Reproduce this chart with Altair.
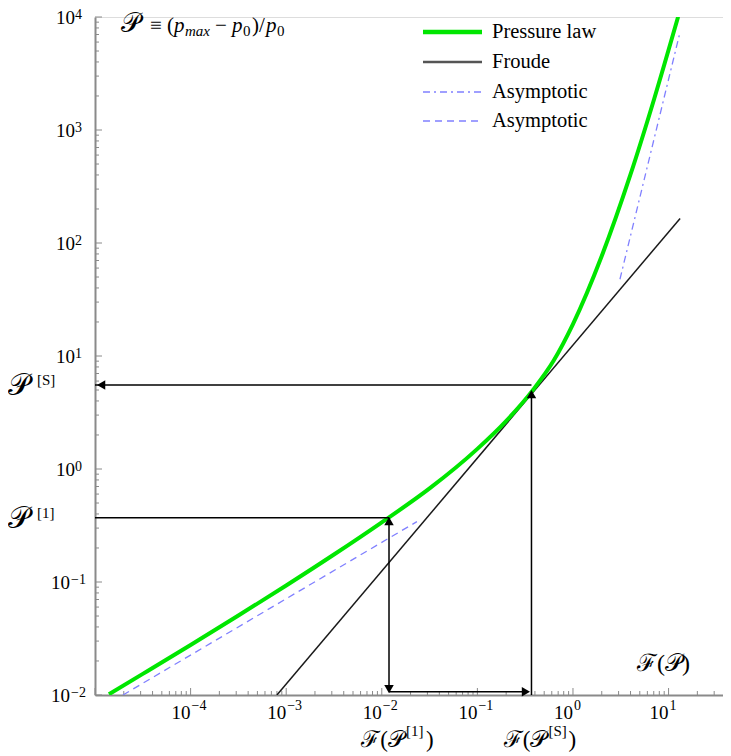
import altair as alt
import pandas as pd

# ---------------- data ----------------
pressure_F = [1.40e-5, 3.162e-5, 1.0e-4, 3.162e-4, 1.0e-3, 3.162e-3, 0.01,
              0.03162, 0.1, 0.1995, 0.382, 0.631, 1.0, 1.995, 3.981, 7.079, 12.59]
pressure_P = [0.01016, 0.01538, 0.02773, 0.05047, 0.09311, 0.1750, 0.3373,
              0.6730, 1.507, 2.655, 5.012, 9.162, 19.14, 76.21, 399.9, 1892.0, 10046.0]
froude_F = [8.0e-4, 13.2]
froude_P = [0.01, 165.0]
asym_low_F = [1.96e-5, 0.0233]
asym_low_P = [0.01, 0.342]
asym_high_F = [3.10, 13.2]
asym_high_P = [47.8, 7380.0]

# annotation values
F_1 = 0.0119
F_S = 0.368
P_1 = 0.371
P_S = 5.53

x_tick_exps = [-4, -3, -2, -1, 0, 1]
y_tick_exps = [-2, -1, 0, 1, 2, 3, 4]
legend_labels = ["Pressure law", "Froude", "Asymptotic", "Asymptotic"]

# ---------------- chart ----------------
W, H = 628, 678
SERIF = "Liberation Serif"
xs = alt.Scale(type="log", domain=[1e-5, 37.1], nice=False)
ys = alt.Scale(type="log", domain=[1e-2, 1e4], nice=False)
AX = dict(labels=False, ticks=False, grid=False, title=None,
          domainColor="#8a8a8a", domainWidth=2)
xaxis = alt.Axis(**AX)
yaxis = alt.Axis(**AX)


def X(f):
    return alt.X(f, type="quantitative", scale=xs, axis=xaxis)


def Y(f):
    return alt.Y(f, type="quantitative", scale=ys, axis=yaxis)


def series(F, P):
    return pd.DataFrame({"F": F, "P": P})


green = alt.Chart(series(pressure_F, pressure_P)).mark_line(
    color="#00e600", strokeWidth=4, clip=True, interpolate="monotone"
).encode(x=X("F"), y=Y("P"))
froude = alt.Chart(series(froude_F, froude_P)).mark_line(
    color="#1a1a1a", strokeWidth=1.5, clip=True
).encode(x=X("F"), y=Y("P"))
low = alt.Chart(series(asym_low_F, asym_low_P)).mark_line(
    color="#8080ff", strokeWidth=1.3, strokeDash=[7, 5], clip=True
).encode(x=X("F"), y=Y("P"))
high = alt.Chart(series(asym_high_F, asym_high_P)).mark_line(
    color="#8080ff", strokeWidth=1.3, strokeDash=[7, 4, 2, 4], clip=True
).encode(x=X("F"), y=Y("P"))

# arrows
seg = pd.DataFrame({
    "x": [1e-5, F_S, 1e-5, F_1, F_1],
    "x2": [F_S, F_S, F_1, F_1, 0.33],
    "y": [P_S, 0.01, P_1, P_1, 0.0107],
    "y2": [P_S, 4.6, P_1, 0.0112, 0.0107],
})
arrows = alt.Chart(seg).mark_rule(color="black", strokeWidth=1.5).encode(
    x=X("x"), x2="x2", y=Y("y"), y2="y2")
heads_df = pd.DataFrame({
    "F": [1.16e-5, F_S, F_1, F_1, 0.322],
    "P": [P_S, 4.6, 0.345, 0.01125, 0.0107],
    "shape": ["triangle-left", "triangle-up", "triangle-up", "triangle-down", "triangle-right"],
})
heads = alt.Chart(heads_df).mark_point(filled=True, color="black", opacity=1, size=90).encode(
    x=X("F"), y=Y("P"), shape=alt.Shape("shape:N", scale=None))

# ticks (inward)
x_major = pd.DataFrame({"v": [10.0 ** e for e in range(-5, 2)]})
x_minor = pd.DataFrame({"v": [m * 10.0 ** e for e in range(-5, 2) for m in range(2, 10)
                               if m * 10.0 ** e <= 37]})
y_major = pd.DataFrame({"v": [10.0 ** e for e in range(-2, 5)]})
y_minor = pd.DataFrame({"v": [m * 10.0 ** e for e in range(-2, 4) for m in range(2, 10)]})
TC = "#8a8a8a"
xt1 = alt.Chart(x_major).mark_rule(color=TC, strokeWidth=1).encode(
    x=X("v"), y=alt.value(H), y2=alt.value(H - 7))
xt2 = alt.Chart(x_minor).mark_rule(color=TC, strokeWidth=1).encode(
    x=X("v"), y=alt.value(H), y2=alt.value(H - 4))
yt1 = alt.Chart(y_major).mark_rule(color=TC, strokeWidth=1).encode(
    y=Y("v"), x=alt.value(0), x2=alt.value(7))
yt2 = alt.Chart(y_minor).mark_rule(color=TC, strokeWidth=1).encode(
    y=Y("v"), x=alt.value(0), x2=alt.value(4))


def sup(e):
    return ("\u2212" + str(-e)) if e < 0 else str(e)


def txt(df, size=20, align="left", baseline="alphabetic", italic=False, **kw):
    args = dict(font=SERIF, fontSize=size, align=align, baseline=baseline, color="black")
    if italic:
        args["fontStyle"] = "italic"
    args.update(kw)
    return alt.Chart(df).mark_text(**args)


xl = pd.DataFrame({"v": [10.0 ** e for e in x_tick_exps],
                   "e": [sup(e) for e in x_tick_exps]})
xl_base = txt(xl, 19, "right").encode(x=X("v"), y=alt.value(H + 24), text=alt.value("10"))
xl_exp = txt(xl, 14, "left", dx=1).encode(x=X("v"), y=alt.value(H + 15), text="e:N")

yl_pos = pd.DataFrame({"v": [10.0 ** e for e in y_tick_exps if e >= 0],
                       "e": [sup(e) for e in y_tick_exps if e >= 0]})
yl_neg = pd.DataFrame({"v": [10.0 ** e for e in y_tick_exps if e < 0],
                       "e": [sup(e) for e in y_tick_exps if e < 0]})


def ylabels(df, xten, xexp):
    a = txt(df, 19, "right", dy=7).encode(y=Y("v"), x=alt.value(xten), text=alt.value("10"))
    b = txt(df, 14, "left", dy=2).encode(y=Y("v"), x=alt.value(xexp), text="e:N")
    return [a, b]


ylab = ylabels(yl_pos, -20, -20) + ylabels(yl_neg, -25, -24)

SCRIPT_P = "\U0001D4AB"
SCRIPT_F = "\u2131"

# annotation labels on the left (P^[S], P^[1])
ann_P = pd.DataFrame({"P": [P_S, P_1], "s": ["[S]", "[1]"]})
ann_P_main = txt(ann_P, 30, "left", dy=10).encode(
    y=Y("P"), x=alt.value(-87), text=alt.value(SCRIPT_P))
ann_P_sup = txt(ann_P, 15, "left", dy=0).encode(
    y=Y("P"), x=alt.value(-58), text="s:N")

# annotation labels below the axis (F(P^[1]), F(P^[S]))
ann_F = pd.DataFrame({"F": [F_1, F_S], "s": ["[1]", "[S]"]})
ann_F_main = txt(ann_F, 23, "right", dx=16).encode(
    x=X("F"), y=alt.value(H + 52), text=alt.value(SCRIPT_F + "(" + SCRIPT_P))
ann_F_sup = txt(ann_F, 15, "left", dx=17).encode(
    x=X("F"), y=alt.value(H + 41), text="s:N")
ann_F_close = txt(ann_F, 23, "left", dx=37).encode(
    x=X("F"), y=alt.value(H + 52), text=alt.value(")"))

# formula at top-left, built from pieces
form_text = [SCRIPT_P, "\u2261 (", "p", "max", "\u2212", "p", "0", ")/", "p", "0"]
form_df = pd.DataFrame({"t": form_text, "i": list(range(len(form_text)))})
form_spec = [  # (x, size, dy, italic)
    (26, 27, 0, False), (55, 21, 0, False), (79, 21, 0, True), (90, 15, 4, True),
    (120, 21, 0, False), (137, 21, 0, True), (148, 15, 4, False), (157, 21, 0, False),
    (171, 21, 0, True), (182, 15, 4, False),
]
formula = [
    txt(form_df[form_df.i == i], s, "left", dy=d, italic=it).encode(
        x=alt.value(xx), y=alt.value(15), text="t:N")
    for i, (xx, s, d, it) in enumerate(form_spec)
]

misc2 = pd.DataFrame({"t": [SCRIPT_F + "(" + SCRIPT_P + ")"]})
flabel = txt(misc2, 24, "left", baseline="middle").encode(
    x=alt.value(542), y=alt.value(H - 31), text="t:N")

# legend
leg_y = [15, 45, 75, 104]
leg_df = pd.DataFrame({"label": legend_labels, "i": [0, 1, 2, 3]})


def leg_line(i, **kw):
    return alt.Chart(leg_df[leg_df.i == i]).mark_rule(**kw).encode(
        x=alt.value(328), x2=alt.value(387), y=alt.value(leg_y[i]))


leg_lines = [
    leg_line(0, color="#00e600", strokeWidth=4.5),
    leg_line(1, color="#555555", strokeWidth=2.5),
    leg_line(2, color="#8080ff", strokeWidth=1.3, strokeDash=[7, 4, 2, 4]),
    leg_line(3, color="#8080ff", strokeWidth=1.3, strokeDash=[7, 5]),
]
leg_text = [
    txt(leg_df[leg_df.i == i], 20.5, "left", baseline="middle").encode(
        x=alt.value(397), y=alt.value(leg_y[i]), text="label:N")
    for i in range(4)
]

chart = alt.layer(
    xt1, xt2, yt1, yt2, low, high, froude, green, arrows, heads,
    xl_base, xl_exp, *ylab, ann_P_main, ann_P_sup, ann_F_main, ann_F_sup, ann_F_close,
    *formula, flabel, *leg_lines, *leg_text
).properties(
    width=W, height=H,
    padding={"left": 87, "top": 9, "right": 0, "bottom": 58},
    autosize=alt.AutoSizeParams(type="none"),
).configure_view(stroke=None).configure(background="white")

chart.save("out.html", embed_options={"renderer": "svg", "actions": False})
